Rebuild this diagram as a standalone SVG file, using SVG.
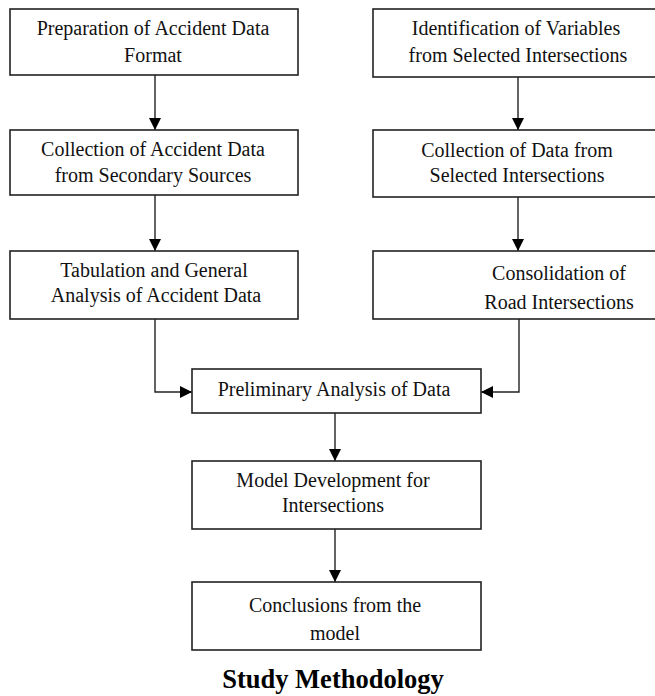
<svg xmlns="http://www.w3.org/2000/svg" width="655" height="696" viewBox="0 0 655 696">
<defs>
<style>
.box{fill:#fff;stroke:#222;stroke-width:1.6}
.t{font-family:"Liberation Serif","Times New Roman",serif;font-size:20px;fill:#111;text-anchor:middle}
.title{font-family:"Liberation Serif","Times New Roman",serif;font-size:26.5px;font-weight:bold;fill:#000;text-anchor:middle}
.c{fill:none;stroke:#222;stroke-width:1.4}
</style>
<marker id="ah" viewBox="0 0 12 12" refX="12" refY="6" markerWidth="12" markerHeight="12" markerUnits="userSpaceOnUse" orient="auto">
<path d="M0,0 L12,6 L0,12 Z" fill="#000"/>
</marker>
</defs>
<rect width="655" height="696" fill="#fff"/>
<g id="connectors">
<line class="c" x1="155" y1="75" x2="155" y2="130" marker-end="url(#ah)"/>
<line class="c" x1="155" y1="195" x2="155" y2="251" marker-end="url(#ah)"/>
<line class="c" x1="518" y1="77" x2="518" y2="130" marker-end="url(#ah)"/>
<line class="c" x1="518" y1="197" x2="518" y2="251" marker-end="url(#ah)"/>
<polyline class="c" points="155,319 155,392 192,392" marker-end="url(#ah)"/>
<polyline class="c" points="519,319 519,392 481,392" marker-end="url(#ah)"/>
<line class="c" x1="335" y1="413" x2="335" y2="461" marker-end="url(#ah)"/>
<line class="c" x1="335" y1="529" x2="335" y2="582" marker-end="url(#ah)"/>
</g>
<g id="n1">
<rect class="box" x="10" y="9" width="288" height="66"/>
<text class="t" x="153" y="35">Preparation of Accident Data</text>
<text class="t" x="153" y="62">Format</text>
</g>
<g id="n2">
<rect class="box" x="10" y="130" width="288" height="65"/>
<text class="t" x="153" y="156">Collection of Accident Data</text>
<text class="t" x="153" y="182">from Secondary Sources</text>
</g>
<g id="n3">
<rect class="box" x="10" y="251" width="288" height="68"/>
<text class="t" x="154" y="277">Tabulation and General</text>
<text class="t" x="156" y="302">Analysis of Accident Data</text>
</g>
<g id="n4">
<rect class="box" x="373" y="9" width="290" height="68"/>
<text class="t" x="516" y="35">Identification  of Variables</text>
<text class="t" x="518" y="62">from Selected Intersections</text>
</g>
<g id="n5">
<rect class="box" x="373" y="130" width="290" height="67"/>
<text class="t" x="517" y="157">Collection of Data from</text>
<text class="t" x="517" y="182">Selected Intersections</text>
</g>
<g id="n6">
<rect class="box" x="373" y="251" width="290" height="68"/>
<text class="t" x="559" y="280">Consolidation of</text>
<text class="t" x="559" y="309">Road Intersections</text>
</g>
<g id="n7">
<rect class="box" x="192" y="369" width="289" height="44"/>
<text class="t" x="334" y="396">Preliminary Analysis of Data</text>
</g>
<g id="n8">
<rect class="box" x="192" y="461" width="289" height="68"/>
<text class="t" x="333" y="487">Model Development for</text>
<text class="t" x="333" y="512">Intersections</text>
</g>
<g id="n9">
<rect class="box" x="192" y="582" width="289" height="68"/>
<text class="t" x="335" y="612">Conclusions from the</text>
<text class="t" x="335" y="640">model</text>
</g>
<text class="title" x="333" y="688">Study Methodology</text>
</svg>
